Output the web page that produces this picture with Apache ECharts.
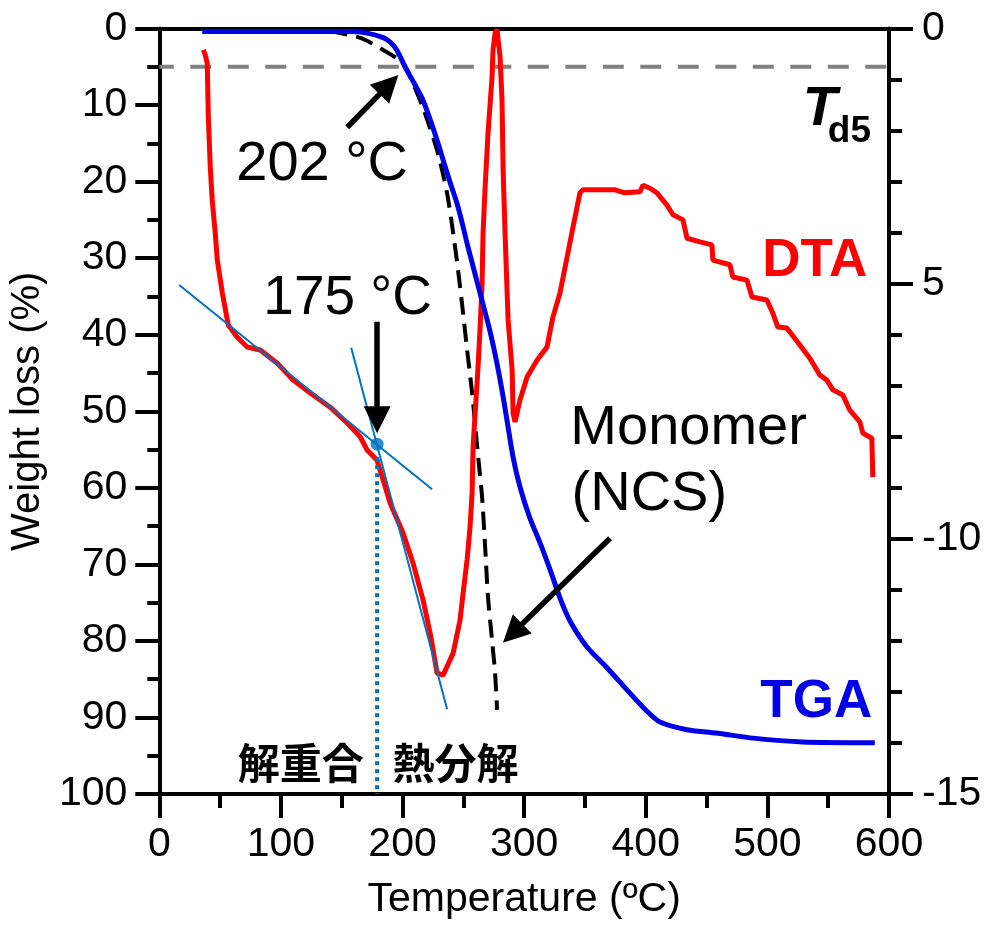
<!DOCTYPE html>
<html><head><meta charset="utf-8">
<script src="https://cdn.jsdelivr.net/npm/echarts@6/dist/echarts.min.js"></script>
<style>html,body{margin:0;padding:0;background:#fff}#c{width:989px;height:931px}</style>
</head><body><div id="c"></div>
<script>
// ---------- data ----------
const tgaTemp = [35.3,148.7,156.9,170.9,184.1,190.0,195.6,202.0,208.7,216.9,222.7,228.4,233.4,239.1,244.9,249.8,253.9,263.8,272.0,277.7,282.7,286.0,290.9,296.6,304.8,313.1,321.3,329.5,337.7,351.7,368.1,384.6,401.0,411.7,433.9,461.0,488.1,529.2,588.3];
const tgaLoss = [0.4,0.4,0.4,0.6,1.2,1.8,2.9,5.0,6.9,9.4,11.9,14.6,17.2,20.1,22.9,25.9,28.6,34.6,39.6,43.8,48.1,51.3,56.0,59.9,64.0,67.2,70.7,74.4,77.4,80.8,83.5,86.4,89.2,90.6,91.6,92.1,92.7,93.2,93.3];

const monoTemp = [140.0,162.7,172.0,184.1,195.6,200.5,206.2,216.9,228.4,236.6,241.6,245.7,249.8,253.1,257.2,262.1,265.4,267.9,270.3,273.6,276.1,277.7];
const monoLoss = [0.3,1.1,1.7,2.8,3.9,4.5,6.3,10.4,15.9,21.5,26.7,31.6,37.2,42.0,47.6,55.8,61.2,67.7,74.3,79.9,84.2,89.0];

const dtaTemp = [36.2,37.8,39.4,40.3,41.9,43.5,46.0,47.7,51.8,56.7,64.1,72.3,83.0,97.0,110.1,124.1,140.5,154.5,165.2,170.9,179.1,189.8,200.5,208.7,216.9,222.7,228.4,233.4,241.6,247.3,249.8,253.1,255.5,257.2,258.0,259.7,262.1,263.8,265.4,266.2,267.9,270.3,273.6,274.4,276.1,277.7,280.2,281.8,282.7,284.3,286.8,290.1,290.9,292.5,296.6,302.4,310.6,318.8,323.7,329.5,335.3,340.2,345.9,348.4,362.4,374.7,382.9,395.2,397.7,403.5,409.2,417.4,422.4,430.6,433.9,444.5,454.4,455.2,469.2,471.6,483.2,487.3,499.6,504.5,508.6,516.0,526.7,534.9,543.1,548.9,553.8,562.0,567.8,576.0,578.5,585.9,586.7];
const dtaValue = [-0.42,-0.52,-0.68,-1.73,-2.71,-3.36,-4.01,-4.54,-5.18,-5.81,-6.05,-6.24,-6.30,-6.56,-6.89,-7.14,-7.42,-7.73,-8.00,-8.26,-8.46,-9.30,-9.89,-10.48,-11.20,-11.85,-12.63,-12.67,-12.24,-11.59,-11.06,-10.41,-9.77,-9.10,-8.20,-7.54,-6.63,-5.85,-4.99,-4.01,-3.11,-2.05,-0.95,-0.42,-0.09,-0.02,-0.56,-1.40,-2.77,-4.01,-5.71,-6.69,-7.54,-7.71,-7.28,-6.83,-6.50,-6.24,-5.65,-5.18,-4.48,-3.89,-3.22,-3.16,-3.16,-3.16,-3.22,-3.20,-3.07,-3.13,-3.22,-3.46,-3.65,-3.75,-4.11,-4.18,-4.24,-4.54,-4.63,-4.87,-4.93,-5.26,-5.32,-5.58,-5.85,-5.87,-6.20,-6.46,-6.79,-6.89,-7.08,-7.18,-7.48,-7.71,-7.93,-8.03,-8.79];

// Td5 reference level and construction lines (temperature, weight loss)
const td5Temp = [0, 600];
const td5Loss = [5, 5];
const tangent1Temp = [16.4, 224.3];
const tangent1Loss = [33.5, 60.2];
const tangent2Temp = [157.8, 236.6];
const tangent2Loss = [41.7, 88.9];
const onsetTemp = [179.1];
const onsetLoss = [54.3];
const onsetDropTemp = [179.1, 179.1];
const onsetDropLoss = [56.0, 100];

// arrows: tail -> head (temperature, weight loss)
const arrowTailTemp = [154.5, 179.1, 370.6];
const arrowTailLoss = [12.9, 38.3, 66.6];
const arrowHeadTemp = [188.8, 179.1, 290.5];
const arrowHeadLoss = [7.33, 51.1, 79.0];

// ticks
const xTicks = [0, 100, 200, 300, 400, 500, 600];
const leftTicks = [0, 10, 20, 30, 40, 50, 60, 70, 80, 90, 100];
const rightTickValues = [0, -5, -10, -15];
const rightTickLabels = ['0', '5', '-10', '-15'];

// annotation texts (anchored in temperature / weight-loss coordinates)
const annoText = ['202 °C', '175 °C', 'Monomer', '(NCS)', 'DTA', 'TGA', 'T', 'd5', '解重合', '熱分解'];
const annoTemp = [133.9, 154.9, 338.0, 339.0, 539.0, 540.2, 543.1, 549.7, 116.3, 243.6];
const annoLoss = [17.8, 35.3, 52.2, 60.9, 30.4, 88.0, 10.65, 13.5, 96.0, 96.0];

// ---------- chart ----------
const FONT = "'Liberation Sans', Arial, Helvetica, sans-serif";
const zip = (a, b) => a.map((v, i) => [v, b[i]]);
const chart = echarts.init(document.getElementById('c'), null, {renderer: 'canvas'});

const axisLine = {show: true, onZero: false, lineStyle: {color: '#000', width: 4}};
const tickStyle = {color: '#000', width: 4};

const option = {
  animation: false,
  backgroundColor: '#fff',
  grid: {left: 159, right: 100, top: 28.5, bottom: 137, containLabel: false},
  xAxis: [
    {
      type: 'value', min: xTicks[0], max: xTicks[xTicks.length - 1], interval: xTicks[1] - xTicks[0],
      position: 'bottom', axisLine: axisLine,
      axisTick: {show: true, inside: false, length: 24, lineStyle: tickStyle},
      minorTick: {show: true, splitNumber: 2, length: 14, lineStyle: tickStyle},
      splitLine: {show: false}, minorSplitLine: {show: false},
      axisLabel: {fontSize: 41, margin: 30, color: '#000', fontFamily: FONT},
      name: 'Temperature (ºC)', nameLocation: 'middle', nameGap: 85,
      nameTextStyle: {fontSize: 41, color: '#000', fontFamily: FONT}
    },
    {
      type: 'value', min: xTicks[0], max: xTicks[xTicks.length - 1], position: 'top',
      axisLine: axisLine, axisTick: {show: false}, axisLabel: {show: false}, splitLine: {show: false}
    }
  ],
  yAxis: [
    {
      type: 'value', min: leftTicks[0], max: leftTicks[leftTicks.length - 1], interval: leftTicks[1] - leftTicks[0],
      inverse: true, position: 'left', axisLine: axisLine,
      axisTick: {show: true, inside: false, length: 24, lineStyle: tickStyle},
      minorTick: {show: true, splitNumber: 2, length: 12, lineStyle: tickStyle},
      splitLine: {show: false}, minorSplitLine: {show: false},
      axisLabel: {fontSize: 41, margin: 32, color: '#000', fontFamily: FONT},
      name: 'Weight loss (%)', nameLocation: 'middle', nameGap: 103,
      nameTextStyle: {fontSize: 40, color: '#000', fontFamily: FONT}
    },
    {
      type: 'value', min: rightTickValues[rightTickValues.length - 1], max: rightTickValues[0],
      interval: rightTickValues[0] - rightTickValues[1],
      position: 'right', axisLine: axisLine,
      axisTick: {show: true, inside: false, length: 24, lineStyle: tickStyle},
      minorTick: {show: true, splitNumber: 5, length: 13, lineStyle: tickStyle},
      splitLine: {show: false}, minorSplitLine: {show: false},
      axisLabel: {
        fontSize: 41, margin: 33, color: '#000', fontFamily: FONT,
        formatter: v => {
          const i = rightTickValues.indexOf(v);
          return i >= 0 ? rightTickLabels[i] : '';
        }
      }
    }
  ],
  series: [
    {
      name: 'Td5', type: 'line', data: zip(td5Temp, td5Loss), symbol: 'none', silent: true, z: 2,
      lineStyle: {color: '#808080', width: 4, type: [21, 16.5], dashOffset: 6.5}
    },
    {
      name: 'Monomer (NCS)', type: 'line', data: zip(monoTemp, monoLoss), symbol: 'none', silent: true, z: 3,
      smooth: 0.25,
      lineStyle: {color: '#000', width: 4, type: [18, 9]}
    },
    {
      name: 'DTA', type: 'line', yAxisIndex: 1, data: zip(dtaTemp, dtaValue), symbol: 'none', silent: true, z: 4,
      lineStyle: {color: '#FF0000', width: 5}
    },
    {
      name: 'TGA', type: 'line', data: zip(tgaTemp, tgaLoss), symbol: 'none', silent: true, z: 5,
      smooth: 0.25,
      lineStyle: {color: '#0000E6', width: 5}
    },
    {
      name: 'tangent1', type: 'line', data: zip(tangent1Temp, tangent1Loss), symbol: 'none', silent: true, z: 6,
      lineStyle: {color: '#0070C0', width: 2}
    },
    {
      name: 'tangent2', type: 'line', data: zip(tangent2Temp, tangent2Loss), symbol: 'none', silent: true, z: 6,
      lineStyle: {color: '#0070C0', width: 2}
    },
    {
      name: 'onsetDrop', type: 'line', data: zip(onsetDropTemp, onsetDropLoss), symbol: 'none', silent: true, z: 6,
      lineStyle: {color: '#0070C0', width: 4, type: [4, 4]}
    },
    {
      name: 'onset', type: 'scatter', data: zip(onsetTemp, onsetLoss), symbol: 'circle', symbolSize: 13, silent: true, z: 7,
      itemStyle: {color: '#0070C0'}
    },
    {
      name: 'arrows', type: 'lines', coordinateSystem: 'cartesian2d', xAxisIndex: 0, yAxisIndex: 0, silent: true, z: 8,
      symbol: ['none', 'triangle'], symbolSize: [25, 27],
      lineStyle: {color: '#000', width: 5.5, opacity: 1, curveness: 0},
      data: arrowTailTemp.map((t, i) => ({coords: [[t, arrowTailLoss[i]], [arrowHeadTemp[i], arrowHeadLoss[i]]]}))
    }
  ]
};
chart.setOption(option);

// text annotations placed through the axes
const annoStyle = [
  {fontSize: 56, align: 'center'},
  {fontSize: 55, align: 'center'},
  {fontSize: 56, align: 'left'},
  {fontSize: 56, align: 'left'},
  {fontSize: 53, align: 'center', fontWeight: 'bold', fill: '#FF0000'},
  {fontSize: 53, align: 'center', fontWeight: 'bold', fill: '#0000E6'},
  {fontSize: 56, align: 'center', fontWeight: 'bold', fontStyle: 'italic'},
  {fontSize: 37, align: 'left', fontWeight: 'bold'},
  {fontSize: 42, align: 'center', fontWeight: 'bold', fontFamily: "'Noto Sans CJK JP', sans-serif"},
  {fontSize: 42, align: 'center', fontWeight: 'bold', fontFamily: "'Noto Sans CJK JP', sans-serif"}
];
const graphics = annoText.map((txt, i) => {
  const p = chart.convertToPixel({xAxisIndex: 0, yAxisIndex: 0}, [annoTemp[i], annoLoss[i]]);
  const s = annoStyle[i];
  return {
    type: 'text', x: p[0], y: p[1], z: 100, silent: true,
    style: {
      text: txt, fontSize: s.fontSize, fontFamily: s.fontFamily || FONT,
      fontWeight: s.fontWeight || 'normal', fontStyle: s.fontStyle || 'normal',
      fill: s.fill || '#000', align: s.align, verticalAlign: 'middle'
    }
  };
});
chart.setOption({graphic: graphics});
</script>
</body></html>
